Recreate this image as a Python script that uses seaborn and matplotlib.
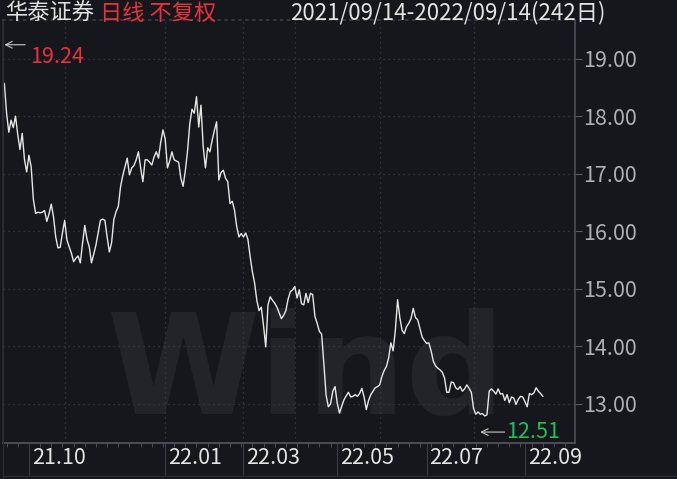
#!/usr/bin/env python3

# Huatai Securities daily close, Wind-style dark chart

import matplotlib
matplotlib.use("Agg")
import matplotlib.pyplot as plt
import matplotlib.transforms as mtransforms
from matplotlib.lines import Line2D
import seaborn as sns
import pandas as pd
import numpy as npy

# daily closes, 2021/09/14 - 2022/09/14, 242 trading days
close = [
    18.57, 18.05, 17.72, 17.93, 17.80, 18.00, 17.68, 17.42, 17.70, 17.25,
    17.03, 17.32, 17.12, 16.55, 16.31, 16.33, 16.32, 16.33, 16.36, 16.17,
    16.30, 16.47, 16.25, 15.90, 15.71, 15.72, 15.97, 16.19, 15.85, 15.73,
    15.62, 15.47, 15.53, 15.57, 15.45, 15.79, 16.10, 15.86, 15.73, 15.45,
    15.60, 15.76, 15.97, 16.19, 16.21, 16.19, 15.90, 15.64, 15.80, 16.20,
    16.34, 16.43, 16.77, 16.97, 17.12, 17.27, 16.98, 17.10, 17.14, 17.24,
    17.38, 17.10, 16.86, 17.24, 17.24, 17.20, 17.15, 17.29, 17.38, 17.27,
    17.55, 17.76, 17.60, 17.10, 17.22, 17.38, 17.24, 17.22, 17.20, 16.92,
    16.78, 17.05, 17.40, 17.87, 18.12, 18.05, 18.34, 17.81, 18.19, 17.47,
    17.10, 17.45, 17.38, 17.58, 17.75, 17.90, 16.89, 17.02, 17.06, 16.92,
    16.86, 16.48, 16.52, 16.37, 16.08, 15.90, 15.96, 15.90, 15.97, 15.86,
    15.56, 15.30, 15.10, 14.80, 14.62, 14.68, 14.36, 13.99, 14.72, 14.86,
    14.80, 14.75, 14.68, 14.58, 14.48, 14.54, 14.62, 14.82, 14.95, 14.98,
    15.04, 14.84, 14.98, 14.74, 14.72, 14.92, 14.76, 14.92, 14.90, 14.52,
    14.40, 14.26, 14.21, 13.70, 13.15, 12.95, 13.00, 13.22, 13.30, 13.01,
    12.84, 12.96, 13.07, 13.14, 13.20, 13.12, 13.13, 13.16, 13.13, 13.18,
    13.27, 13.12, 12.90, 13.06, 13.16, 13.22, 13.28, 13.30, 13.33, 13.48,
    13.58, 13.65, 13.80, 14.06, 13.92, 14.28, 14.81, 14.50, 14.28, 14.22,
    14.34, 14.40, 14.48, 14.66, 14.50, 14.46, 14.31, 14.16, 14.10, 14.05,
    14.06, 13.92, 13.74, 13.66, 13.62, 13.59, 13.55, 13.45, 13.20, 13.20,
    13.38, 13.37, 13.28, 13.25, 13.30, 13.22, 13.26, 13.33, 13.27, 13.20,
    12.92, 12.82, 12.86, 12.82, 12.83, 12.79, 12.81, 13.22, 13.26, 13.22,
    13.17, 13.26, 13.17, 13.18, 13.06, 13.16, 13.02, 13.12, 13.10, 12.99,
    13.08, 13.13, 13.12, 13.04, 12.95, 13.18, 13.16, 13.19, 13.28, 13.22,
    13.18, 13.13,
]

# first trading day of each labelled month (index into close)
month_idx = [11, 72, 107, 149, 189, 233]
month_labels = ["21.10", "22.01", "22.03", "22.05", "22.07", "22.09"]
# months that get a dotted vertical grid line
grid_idx = [27, 72, 107, 130, 168, 210]
price_ticks = [13, 14, 15, 16, 17, 18, 19]

high_idx, high_val = 0, 19.24
low_idx, low_val = 213, 12.51

title_name = "华泰证券"
title_mode = "日线 不复权"
title_range = "2021/09/14-2022/09/14(242日)"

bg = "#15171c"
grid_c = "#3a3d45"
red = "#e8323a"
green = "#22c05a"

sns.set_theme(style="dark")
plt.rcParams["font.family"] = ["Noto Sans CJK SC", "DejaVu Sans"]


def main():
    fig = plt.figure(figsize=(6.77, 4.79), dpi=100, facecolor=bg)
    ax = fig.add_axes([3 / 677, 1 - 443 / 479, 572 / 677, 423 / 479])
    ax.set_facecolor(bg)

    df = pd.DataFrame({"day": npy.arange(len(close)), "close": close})
    sns.lineplot(data=df, x="day", y="close", ax=ax, color="#e6e6e6", lw=1.0, zorder=3)

    ax.set_xlim(-0.6, 255.4)
    ax.set_ylim(12.32, 19.67)
    ax.set_xlabel("")
    ax.set_ylabel("")

    # price axis on the right
    ax.yaxis.tick_right()
    ax.set_yticks(price_ticks, [f"{v:.2f}" for v in price_ticks])
    ax.tick_params(axis="y", right=True, left=False, length=5, width=0.8,
                   color="#5a5d64", labelcolor="#aeb0b4", labelsize=15.5, pad=1)
    ax.grid(axis="y", ls=(0, (1, 3)), color=grid_c, lw=0.9)
    ax.grid(axis="x", visible=False)
    for g in grid_idx:
        ax.axvline(g, ls=(0, (1, 3)), color=grid_c, lw=0.9, zorder=1)

    # month labels sit to the right of long separator ticks
    ax.set_xticks(month_idx, month_labels)
    ax.set_xticks(npy.arange(1, 256, 5), minor=True)
    ax.tick_params(axis="x", which="major", bottom=True, length=23, width=0.8,
                   color="#3a3d44", labelcolor="#e4e4e4", labelsize=15.5, pad=-20)
    ax.tick_params(axis="x", which="minor", bottom=True, length=3, width=0.7,
                   color="#4a4d54")
    shift = mtransforms.ScaledTranslation(2 / 72, 0, fig.dpi_scale_trans)
    for lab in ax.get_xticklabels():
        lab.set_horizontalalignment("left")
        lab.set_transform(lab.get_transform() + shift)

    for side in ["left", "right", "bottom", "top"]:
        ax.spines[side].set_visible(True)
    ax.spines["right"].set_color("#4a4d55")
    ax.spines["bottom"].set_color("#4f525a")
    ax.spines["left"].set_color("#2a2d33")
    ax.spines["top"].set_color(grid_c)
    ax.spines["top"].set_linestyle((0, (1, 3)))

    # high / low markers
    arrow = dict(arrowstyle="->", color="#c8c8c8", lw=0.8, shrinkA=0, shrinkB=0)
    ax.annotate("", xy=(high_idx, high_val), xytext=(15, 0), textcoords="offset points",
                arrowprops=arrow)
    ax.annotate(f"{high_val:.2f}", xy=(high_idx, high_val), xytext=(18.4, -8.6),
                textcoords="offset points", color=red, fontsize=15.5, va="center", ha="left")
    ax.annotate("", xy=(low_idx, low_val), xytext=(17.5, 0), textcoords="offset points",
                arrowprops=arrow)
    ax.annotate(f"{low_val:.2f}", xy=(low_idx, low_val), xytext=(18.7, 0),
                textcoords="offset points", color=green, fontsize=15.5, va="center", ha="left")

    # faint watermark, kept inside the plot area
    ax.text(0.53, 0.0, "Wind", transform=ax.transAxes, fontsize=100,
            fontweight="bold", color="#222429", ha="center", va="bottom",
            zorder=0.5, family="DejaVu Sans")

    # header
    fig.text(5 / 677, 1 - 13 / 479, title_name, color="#e2e2e2", fontsize=16, va="center")
    fig.text(100 / 677, 1 - 13 / 479, title_mode, color=red, fontsize=16, va="center")
    fig.text(290 / 677, 1 - 13 / 479, title_range, color="#e2e2e2", fontsize=16, va="center")

    # frame round the date band
    fig.add_artist(Line2D([3 / 677, 3 / 677], [0, 1 - 20 / 479], transform=fig.transFigure,
                          color="#2a2d33", lw=0.8))
    fig.add_artist(Line2D([3 / 677, 1], [1 - 476 / 479] * 2, transform=fig.transFigure,
                          color="#2a2d33", lw=0.8))

    plt.savefig("out.png", dpi=100, facecolor=bg)


if __name__ == "__main__":
    main()
